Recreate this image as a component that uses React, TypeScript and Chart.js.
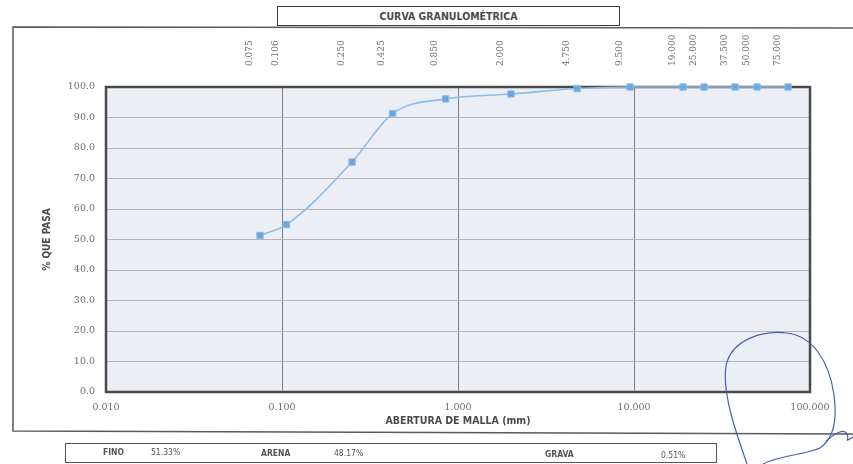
import { useEffect, useRef } from "react";
import { Chart, registerables } from "chart.js";

Chart.register(...registerables);

// ---- data ----
const sieveSizes = [0.075, 0.106, 0.25, 0.425, 0.85, 2.0, 4.75, 9.5, 19.0, 25.0, 37.5, 50.0, 75.0];
const percentPassing = [51.33, 54.9, 75.4, 91.3, 96.1, 97.7, 99.49, 100, 100, 100, 100, 100, 100];
const bottomTickValues = [0.01, 0.1, 1, 10, 100];
const summaryLabels = ["FINO", "ARENA", "GRAVA"];
const summaryValues = ["51.33%", "48.17%", "0.51%"];
const chartTitle = "CURVA GRANULOMÉTRICA";
const xTitle = "ABERTURA DE MALLA (mm)";
const yTitle = "% QUE PASA";

const serif = "'DejaVu Serif', 'Liberation Serif', serif";
const tickFont = { family: serif, size: 9.5 };
const sansCond = "'DejaVu Sans Condensed', 'Liberation Sans Narrow', 'Liberation Sans', sans-serif";

const framePlugin = {
  id: "framePlugin",
  beforeDraw(chart: any) {
    const { ctx, chartArea } = chart;
    const { left, top, right, bottom } = chartArea;
    ctx.save();
    ctx.fillStyle = "#ffffff";
    ctx.fillRect(0, 0, chart.width, chart.height);
    // outer document frame
    ctx.strokeStyle = "#5a5a5a";
    ctx.lineWidth = 1.5;
    ctx.beginPath();
    ctx.moveTo(chart.width, 28);
    ctx.lineTo(13, 27);
    ctx.lineTo(13, 431);
    ctx.lineTo(chart.width, 434);
    ctx.stroke();
    // plot background
    ctx.fillStyle = "#eceef6";
    ctx.fillRect(left, top, right - left, bottom - top);
    ctx.restore();
  },
  beforeDatasetsDraw(chart: any) {
    const { ctx, chartArea } = chart;
    const { left, top, right, bottom } = chartArea;
    ctx.save();
    ctx.strokeStyle = "#4a4a4a";
    ctx.lineWidth = 2.5;
    ctx.strokeRect(left, top, right - left, bottom - top);
    ctx.restore();
  },
};

export default function App() {
  const canvasRef = useRef<HTMLCanvasElement | null>(null);

  useEffect(() => {
    document.body.style.margin = "0";
    const canvas = canvasRef.current;
    if (!canvas) return;
    const chart = new Chart(canvas, {
      type: "line",
      data: {
        datasets: [
          {
            data: sieveSizes.map((s, i) => ({ x: s, y: percentPassing[i] })),
            borderColor: "#8dbcea",
            backgroundColor: "#6fa5dd",
            borderWidth: 1.6,
            pointStyle: "rect",
            pointRadius: 4.5,
            pointBackgroundColor: "#6fa5dd",
            pointBorderColor: "#8dbcea",
            pointBorderWidth: 1,
            cubicInterpolationMode: "monotone",
            clip: false,
            xAxisID: "x",
            yAxisID: "y",
          } as any,
        ],
      },
      options: {
        animation: false,
        responsive: false,
        maintainAspectRatio: false,
        layout: { padding: { left: 40, right: 43, top: 27, bottom: 32 } },
        plugins: { legend: { display: false }, tooltip: { enabled: false }, title: { display: false } },
        scales: {
          x: {
            type: "logarithmic",
            position: "bottom",
            min: 0.01,
            max: 100,
            afterBuildTicks: (s: any) => {
              s.ticks = bottomTickValues.map((v) => ({ value: v, major: true }));
            },
            afterFit: (s: any) => {
              s.height = 40;
            },
            ticks: {
              autoSkip: false,
              maxRotation: 0,
              minRotation: 0,
              padding: 10,
              color: "#707070",
              font: tickFont,
              callback: (v: any) => Number(v).toFixed(3),
            },
            grid: { color: "#808080", lineWidth: 1, drawTicks: false },
            border: { display: false },
            title: {
              display: true,
              text: xTitle,
              color: "#4a4a4a",
              font: { family: sansCond, size: 10.5, weight: "bold" },
              padding: { top: 0, bottom: 4 },
            },
          },
          x2: {
            type: "logarithmic",
            position: "top",
            min: 0.01,
            max: 100,
            afterBuildTicks: (s: any) => {
              s.ticks = sieveSizes.map((v) => ({ value: v }));
            },
            afterFit: (s: any) => {
              s.height = 60;
            },
            ticks: {
              autoSkip: false,
              maxRotation: 90,
              minRotation: 90,
              padding: 21,
              color: "#707070",
              font: { family: serif, size: 9 },
              callback: (v: any) => Number(v).toFixed(3),
            },
            grid: { display: false, drawTicks: false },
            border: { display: false },
          },
          y: {
            type: "linear",
            min: 0,
            max: 100,
            afterFit: (s: any) => {
              s.width = 66;
            },
            ticks: {
              stepSize: 10,
              padding: 11,
              color: "#707070",
              font: tickFont,
              callback: (v: any) => Number(v).toFixed(1),
            },
            grid: { color: "#b4b4b8", lineWidth: 1, drawTicks: false },
            border: { display: false },
            title: {
              display: true,
              text: yTitle,
              color: "#4a4a4a",
              font: { family: sansCond, size: 10, weight: "bold" },
              padding: { top: 1, bottom: 0 },
            },
          },
        },
      } as any,
      plugins: [framePlugin],
    });
    return () => chart.destroy();
  }, []);

  const textStyle: any = {
    position: "absolute",
    fontFamily: sansCond,
    fontSize: "8.5px",
    color: "#555",
    lineHeight: "1",
    whiteSpace: "nowrap",
  };

  return (
    <div style={{ position: "relative", width: 853, height: 464, overflow: "hidden", background: "#fff" }}>
      <canvas ref={canvasRef} width={853} height={464} style={{ display: "block", width: 853, height: 464 }} />
      <div
        style={{
          position: "absolute",
          left: 277,
          top: 6,
          width: 343,
          height: 20,
          border: "1.5px solid #3a3a3a",
          boxSizing: "border-box",
          display: "flex",
          alignItems: "center",
          justifyContent: "center",
          fontFamily: sansCond,
          fontSize: "10.5px",
          fontWeight: "bold",
          color: "#4a4a4a",
          background: "#fff",
        }}
      >
        {chartTitle}
      </div>
      <div
        style={{
          position: "absolute",
          left: 65,
          top: 443,
          width: 652,
          height: 20,
          border: "1px solid #555",
          boxSizing: "border-box",
        }}
      />
      <div style={{ ...textStyle, left: 103, top: 448, fontWeight: "bold" }}>{summaryLabels[0]}</div>
      <div style={{ ...textStyle, left: 151, top: 448 }}>{summaryValues[0]}</div>
      <div style={{ ...textStyle, left: 261, top: 449, fontWeight: "bold" }}>{summaryLabels[1]}</div>
      <div style={{ ...textStyle, left: 334, top: 449 }}>{summaryValues[1]}</div>
      <div style={{ ...textStyle, left: 545, top: 450, fontWeight: "bold" }}>{summaryLabels[2]}</div>
      <div style={{ ...textStyle, left: 661, top: 451 }}>{summaryValues[2]}</div>
      <svg
        width={853}
        height={464}
        style={{ position: "absolute", left: 0, top: 0, pointerEvents: "none" }}
      >
        <path
          d="M 747 464 C 735 430, 722 392, 726 366 C 731 340, 762 330, 787 333 C 812 336, 829 360, 834 395 C 838 425, 832 440, 820 448 C 805 455, 780 455, 763 464"
          fill="none"
          stroke="#4a5db0"
          strokeWidth={1.2}
        />
        <path
          d="M 826 441 C 836 433, 844 428, 847 434 C 850 440, 843 443, 853 437"
          fill="none"
          stroke="#4a5db0"
          strokeWidth={1.2}
        />
      </svg>
    </div>
  );
}
